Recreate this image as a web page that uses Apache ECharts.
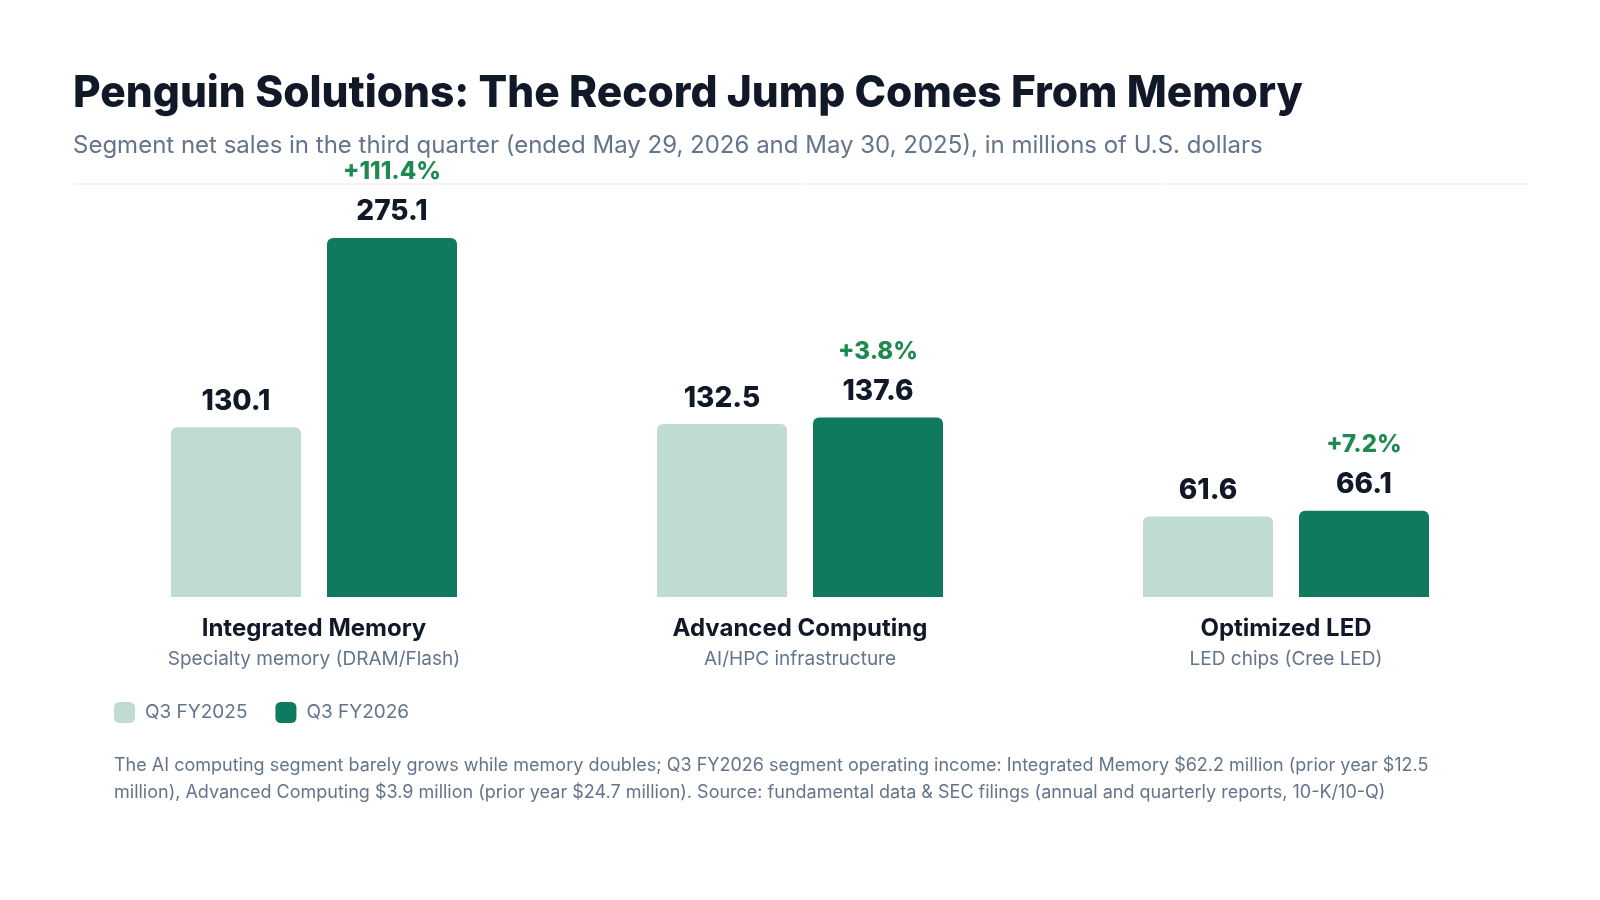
<!DOCTYPE html>
<html>
<head>
<meta charset="utf-8">
<script src="https://cdn.jsdelivr.net/npm/echarts@6/dist/echarts.min.js"></script>
<style>
  html, body { margin: 0; padding: 0; background: #fff; }
  #chart { width: 1600px; height: 900px; }
</style>
</head>
<body>
<div id="chart"></div>
<script>
const segments = ['Integrated Memory', 'Advanced Computing', 'Optimized LED']
const segmentNotes = ['Specialty memory (DRAM/Flash)', 'AI/HPC infrastructure', 'LED chips (Cree LED)']
const prevYear = [130.1, 132.5, 61.6]
const currYear = [275.1, 137.6, 66.1]
const growth = ['+111.4%', '+3.8%', '+7.2%']
const seriesNames = ['Q3 FY2025', 'Q3 FY2026']

const font = 'Inter, "Noto Sans", sans-serif'
const chart = echarts.init(document.getElementById('chart'))

// title drawn as graphic so it can be squeezed a little (tight tracking)
const option = {
  backgroundColor: '#fff',
  textStyle: { fontFamily: font },
  title: {
    text: 'Segment net sales in the third quarter (ended May 29, 2026 and May 30, 2025), in millions of U.S. dollars',
    left: 68,
    top: 129,
    textStyle: { fontFamily: font, fontSize: 24, fontWeight: 400, color: '#64748b' }
  },
  graphic: [{
    type: 'text',
    x: 73,
    y: 72,
    scaleX: 0.965,
    style: {
      text: 'Penguin Solutions: The Record Jump Comes From Memory',
      font: '800 44px ' + font,
      fill: '#111827',
      verticalAlign: 'top'
    }
  }, {
    type: 'line',
    shape: { x1: 73, y1: 184, x2: 1528, y2: 184 },
    style: { stroke: '#e5e7eb', lineWidth: 1 }
  }, {
    type: 'text',
    left: 114,
    top: 752,
    style: {
      text: 'The AI computing segment barely grows while memory doubles; Q3 FY2026 segment operating income: Integrated Memory $62.2 million (prior year $12.5\nmillion), Advanced Computing $3.9 million (prior year $24.7 million). Source: fundamental data & SEC filings (annual and quarterly reports, 10-K/10-Q)',
      font: '18px ' + font,
      fill: '#64748b',
      lineHeight: 27
    }
  }],
  legend: {
    left: 109,
    top: 697,
    itemWidth: 21,
    itemHeight: 21,
    itemGap: 28,
    icon: 'roundRect',
    textStyle: { fontSize: 19, color: '#64748b', padding: [0, 0, 0, 5] },
    data: seriesNames
  },
  grid: { left: 71, right: 71, top: 205.5, bottom: 303 },
  xAxis: {
    type: 'category',
    data: segments,
    axisLine: { show: false },
    axisTick: { show: false },
    axisLabel: {
      margin: 17,
      formatter: (v, i) => '{name|' + v + '}\n{note|' + segmentNotes[i] + '}',
      rich: {
        name: { fontSize: 24, fontWeight: 700, color: '#111827', lineHeight: 30 },
        note: { fontSize: 19, color: '#64748b', lineHeight: 30 }
      }
    }
  },
  yAxis: {
    type: 'value',
    min: 0,
    max: 300,
    show: false,
    splitLine: { show: false }
  },
  series: [{
    name: seriesNames[0],
    type: 'bar',
    data: prevYear,
    barWidth: 130,
    barGap: '20%',
    itemStyle: { color: '#c0dbd2', borderRadius: [6, 6, 0, 0] },
    label: {
      show: true,
      position: 'top',
      distance: 10,
      formatter: p => p.value.toFixed(1),
      fontSize: 28,
      fontWeight: 800,
      lineHeight: 32,
      color: '#111827'
    }
  }, {
    name: seriesNames[1],
    type: 'bar',
    data: currYear,
    barWidth: 130,
    barGap: '20%',
    itemStyle: { color: '#107a5f', borderRadius: [6, 6, 0, 0] },
    label: {
      show: true,
      position: 'top',
      distance: 10,
      formatter: p => '{pct|' + growth[p.dataIndex] + '}\n{val|' + p.value.toFixed(1) + '}',
      rich: {
        pct: { fontSize: 24, fontWeight: 800, color: '#1e8a4f', lineHeight: 48 },
        val: { fontSize: 28, fontWeight: 800, color: '#111827', lineHeight: 32 }
      }
    }
  }]
}

chart.setOption(option)
</script>
</body>
</html>
